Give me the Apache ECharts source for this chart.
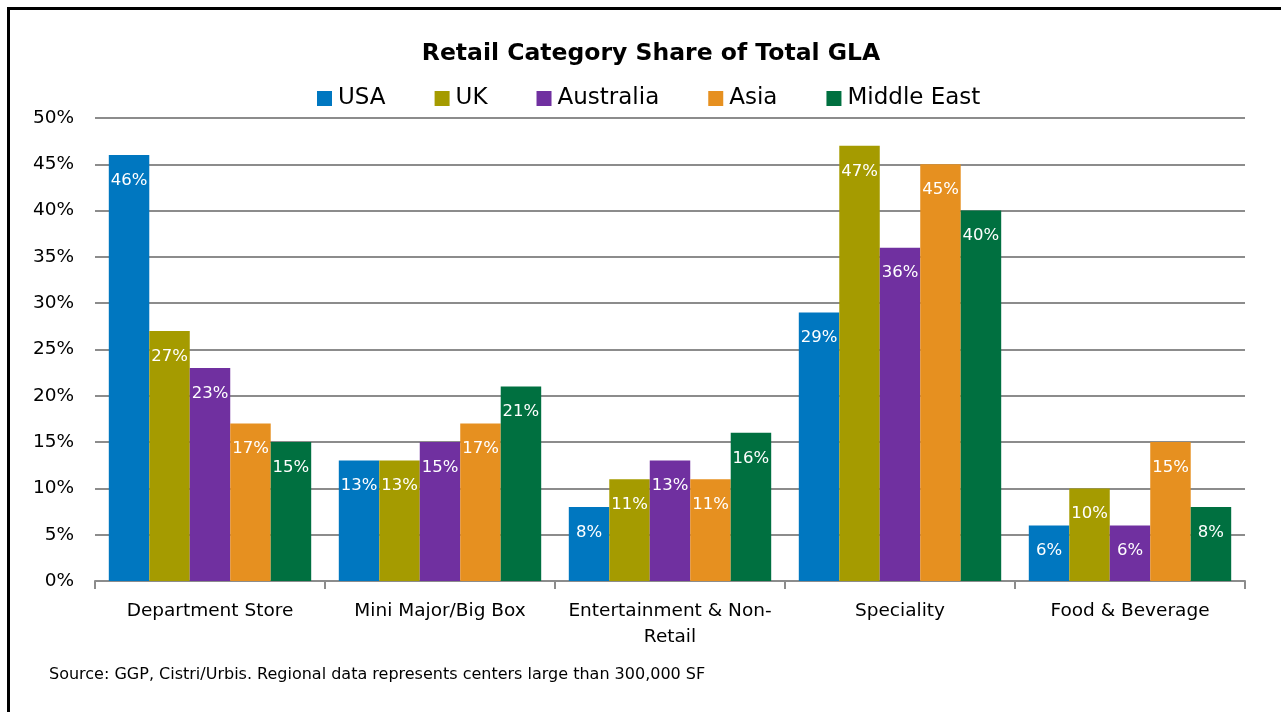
<!DOCTYPE html>
<html><head><meta charset="utf-8">
<script src="https://cdn.jsdelivr.net/npm/echarts@6/dist/echarts.min.js"></script>
<style>
html,body{margin:0;padding:0;background:#fff;overflow:hidden;}
#frame{position:absolute;left:7px;top:7px;width:1300px;height:800px;border:3px solid #000;box-sizing:border-box;}
#c{position:absolute;left:0;top:0;width:1281px;height:712px;}
</style></head>
<body>
<div id="frame"></div>
<div id="c"></div>
<script>
const categories = ['Department Store', 'Mini Major/Big Box', 'Entertainment & Non-\nRetail', 'Speciality', 'Food & Beverage'];
const seriesNames = ['USA', 'UK', 'Australia', 'Asia', 'Middle East'];
const usa = [46, 13, 8, 29, 6];
const uk = [27, 13, 11, 47, 10];
const australia = [23, 15, 13, 36, 6];
const asia = [17, 17, 11, 45, 15];
const middleEast = [15, 21, 16, 40, 8];
const colors = ['#0077C0', '#A59B00', '#7030A0', '#E69020', '#007040'];
const values = [usa, uk, australia, asia, middleEast];
const FONT = 'DejaVu Sans';

const chart = echarts.init(document.getElementById('c'));
chart.setOption({
  animation: false,
  textStyle: {fontFamily: FONT},
  title: {
    text: 'Retail Category Share of Total GLA',
    left: 646, top: 37, textAlign: 'center',
    textStyle: {fontFamily: FONT, fontSize: 23.5, fontWeight: 'bold', color: '#000'}
  },
  legend: {
    data: seriesNames,
    left: 317, top: 87, padding: 0,
    icon: 'rect', itemWidth: 15, itemHeight: 15, itemGap: 49,
    textStyle: {fontFamily: FONT, fontSize: 23, color: '#000', padding: [0,0,0,1]}
  },
  graphic: [{
    type: 'text', left: 49, top: 667,
    style: {text: 'Source: GGP, Cistri/Urbis. Regional data represents centers large than 300,000 SF',
      font: '16px "DejaVu Sans"', fill: '#000'}
  }],
  grid: {left: 95, right: 36, top: 118, bottom: 131},
  xAxis: {
    type: 'category', data: categories,
    axisLine: {lineStyle: {color: '#8c8c8c', width: 2}},
    axisTick: {show: true, length: 8, lineStyle: {color: '#8c8c8c', width: 2}},
    axisLabel: {fontFamily: FONT, fontSize: 18.5, color: '#000', margin: 17, lineHeight: 26, interval: 0}
  },
  yAxis: {
    type: 'value', min: 0, max: 50, interval: 5,
    axisLine: {show: false}, axisTick: {show: false},
    splitLine: {lineStyle: {color: '#8c8c8c', width: 2}},
    axisLabel: {fontFamily: FONT, fontSize: 18.5, color: '#000', margin: 21, formatter: '{value}%'}
  },
  series: values.map((v, i) => ({
    name: seriesNames[i], type: 'bar', data: v,
    barGap: '0%', barCategoryGap: '12%',
    itemStyle: {color: colors[i]},
    label: {show: true, position: 'insideTop', distance: 17, formatter: '{c}%',
      color: '#fff', fontFamily: FONT, fontSize: 16.5}
  }))
});
</script>
</body></html>
